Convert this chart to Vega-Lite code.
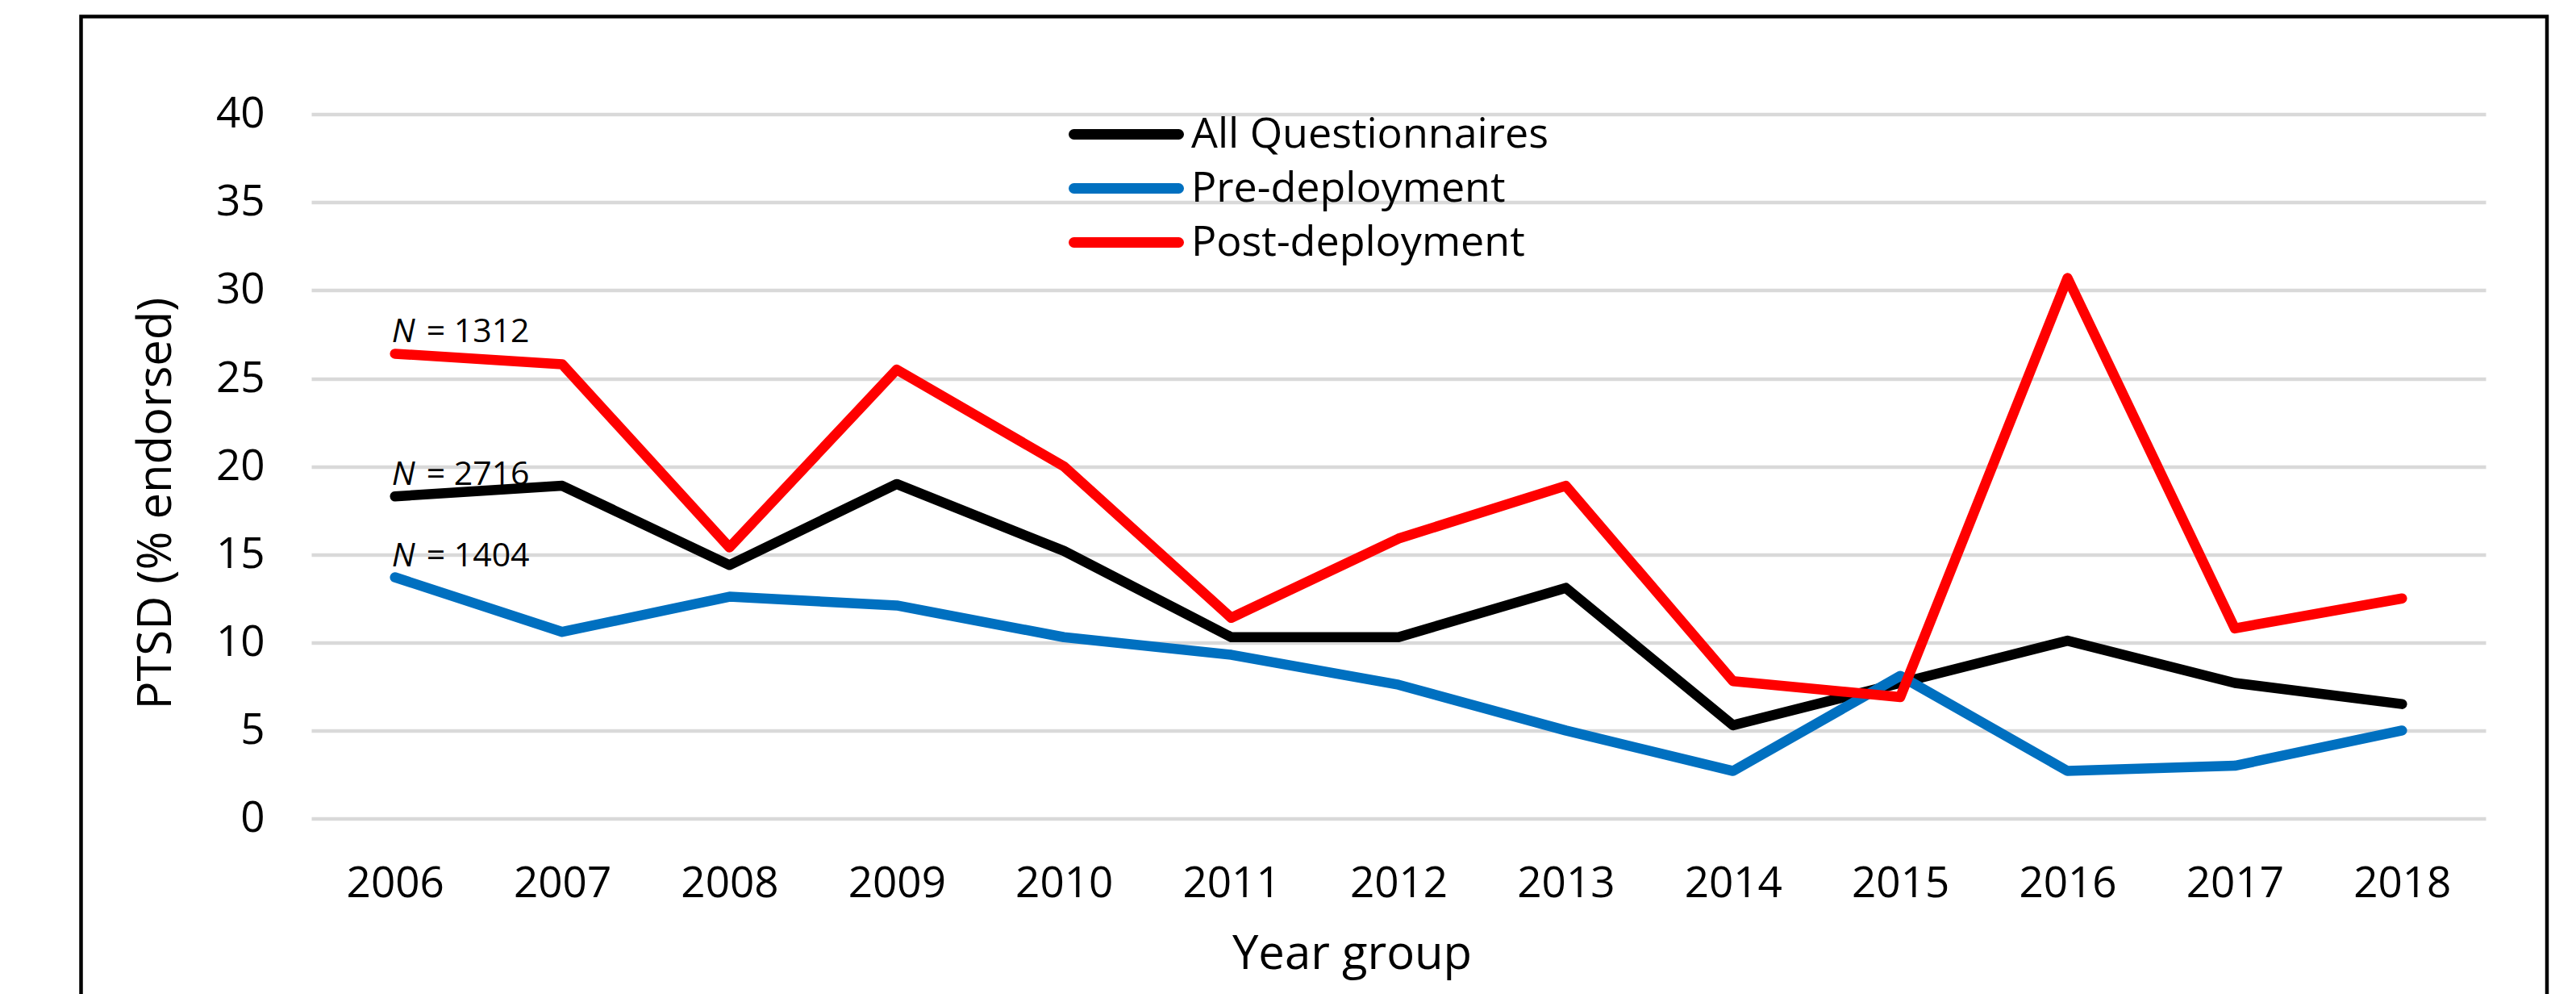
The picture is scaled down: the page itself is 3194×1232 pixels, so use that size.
{
  "$schema": "https://vega.github.io/schema/vega-lite/v6.json",
  "autosize": {"type": "none"},
  "padding": {"left": 100.5, "top": 20.5, "right": 36, "bottom": -4},
  "width": 3057.5,
  "height": 1215.5,
  "background": "white",
  "config": {
    "font": "Open Sans",
    "view": {"stroke": "black", "strokeWidth": 4.5},
    "axis": {
      "labelFont": "Open Sans",
      "titleFont": "Open Sans",
      "labelColor": "black",
      "titleColor": "black",
      "titleFontWeight": "normal",
      "domain": false,
      "ticks": false,
      "tickSize": 0
    }
  },
  "datasets": {
    "ptsd": [
      {"year": "2006", "series": "All Questionnaires", "pct": 18.3},
      {"year": "2007", "series": "All Questionnaires", "pct": 18.9},
      {"year": "2008", "series": "All Questionnaires", "pct": 14.4},
      {"year": "2009", "series": "All Questionnaires", "pct": 19.0},
      {"year": "2010", "series": "All Questionnaires", "pct": 15.2},
      {"year": "2011", "series": "All Questionnaires", "pct": 10.3},
      {"year": "2012", "series": "All Questionnaires", "pct": 10.3},
      {"year": "2013", "series": "All Questionnaires", "pct": 13.1},
      {"year": "2014", "series": "All Questionnaires", "pct": 5.3},
      {"year": "2015", "series": "All Questionnaires", "pct": 7.7},
      {"year": "2016", "series": "All Questionnaires", "pct": 10.1},
      {"year": "2017", "series": "All Questionnaires", "pct": 7.7},
      {"year": "2018", "series": "All Questionnaires", "pct": 6.5},
      {"year": "2006", "series": "Pre-deployment", "pct": 13.7},
      {"year": "2007", "series": "Pre-deployment", "pct": 10.6},
      {"year": "2008", "series": "Pre-deployment", "pct": 12.6},
      {"year": "2009", "series": "Pre-deployment", "pct": 12.1},
      {"year": "2010", "series": "Pre-deployment", "pct": 10.3},
      {"year": "2011", "series": "Pre-deployment", "pct": 9.3},
      {"year": "2012", "series": "Pre-deployment", "pct": 7.6},
      {"year": "2013", "series": "Pre-deployment", "pct": 5.0},
      {"year": "2014", "series": "Pre-deployment", "pct": 2.7},
      {"year": "2015", "series": "Pre-deployment", "pct": 8.1},
      {"year": "2016", "series": "Pre-deployment", "pct": 2.7},
      {"year": "2017", "series": "Pre-deployment", "pct": 3.0},
      {"year": "2018", "series": "Pre-deployment", "pct": 5.0},
      {"year": "2006", "series": "Post-deployment", "pct": 26.4},
      {"year": "2007", "series": "Post-deployment", "pct": 25.8},
      {"year": "2008", "series": "Post-deployment", "pct": 15.4},
      {"year": "2009", "series": "Post-deployment", "pct": 25.5},
      {"year": "2010", "series": "Post-deployment", "pct": 20.0},
      {"year": "2011", "series": "Post-deployment", "pct": 11.4},
      {"year": "2012", "series": "Post-deployment", "pct": 15.9},
      {"year": "2013", "series": "Post-deployment", "pct": 18.9},
      {"year": "2014", "series": "Post-deployment", "pct": 7.8},
      {"year": "2015", "series": "Post-deployment", "pct": 6.9},
      {"year": "2016", "series": "Post-deployment", "pct": 30.7},
      {"year": "2017", "series": "Post-deployment", "pct": 10.8},
      {"year": "2018", "series": "Post-deployment", "pct": 12.5}
    ],
    "sampleSizes": [
      {"year": "2006", "series": "Post-deployment", "pct": 26.4, "n": "= 1312"},
      {"year": "2006", "series": "All Questionnaires", "pct": 18.3, "n": "= 2716"},
      {"year": "2006", "series": "Pre-deployment", "pct": 13.7, "n": "= 1404"}
    ]
  },
  "encoding": {
    "x": {
      "field": "year",
      "type": "ordinal",
      "sort": null,
      "scale": {"type": "point", "range": [285.5, 2981.5], "padding": 0.5},
      "axis": {
        "title": "Year group",
        "labelAngle": 0,
        "labelFontSize": 53,
        "labelBaseline": "alphabetic",
        "labelPadding": 96.5,
        "offset": -221.5,
        "grid": false,
        "titleFontSize": 58,
        "titleX": 1575.5,
        "titleY": 185.5,
        "titleBaseline": "alphabetic",
        "titleAnchor": "middle",
        "titleAlign": "center"
      }
    },
    "y": {
      "field": "pct",
      "type": "quantitative",
      "scale": {"domain": [0, 40], "range": [994, 121.2], "nice": false, "zero": true},
      "axis": {
        "title": "PTSD (% endorsed)",
        "values": [0, 5, 10, 15, 20, 25, 30, 35, 40],
        "labelFontSize": 53,
        "labelPadding": 58,
        "offset": -285.5,
        "grid": true,
        "gridColor": "#D9D9D9",
        "gridWidth": 4.5,
        "titleFontSize": 58,
        "titleAngle": -90,
        "titleX": -192,
        "titleY": 603,
        "titleAlign": "center",
        "titleBaseline": "middle"
      }
    }
  },
  "layer": [
    {
      "data": {"name": "ptsd"},
      "mark": {"type": "line", "strokeWidth": 12.5, "strokeCap": "round", "strokeJoin": "round"},
      "encoding": {
        "color": {
          "field": "series",
          "type": "nominal",
          "scale": {
            "domain": ["All Questionnaires", "Pre-deployment", "Post-deployment"],
            "range": ["#000000", "#0070C0", "#FF0000"]
          },
          "legend": {
            "title": null,
            "orient": "none",
            "legendX": 1224.5,
            "legendY": 118,
            "direction": "vertical",
            "padding": 0,
            "symbolType": "stroke",
            "symbolSize": 16900,
            "symbolStrokeWidth": 13,
            "clipHeight": 56,
            "labelFont": "Open Sans",
            "labelFontSize": 52,
            "labelColor": "black",
            "labelOffset": 9,
            "labelLimit": 1000,
            "rowPadding": 11,
            "encode": {"symbols": {"update": {"strokeCap": {"value": "round"}}}}
          }
        }
      }
    },
    {
      "data": {"name": "sampleSizes"},
      "mark": {"type": "text", "text": "N", "fontStyle": "italic", "fontSize": 41, "align": "left", "baseline": "alphabetic", "dx": -4, "dy": -14, "color": "black"}
    },
    {
      "data": {"name": "sampleSizes"},
      "mark": {"type": "text", "fontSize": 41, "align": "left", "baseline": "alphabetic", "dx": 39, "dy": -14, "color": "black"},
      "encoding": {"text": {"field": "n", "type": "nominal"}}
    }
  ]
}
